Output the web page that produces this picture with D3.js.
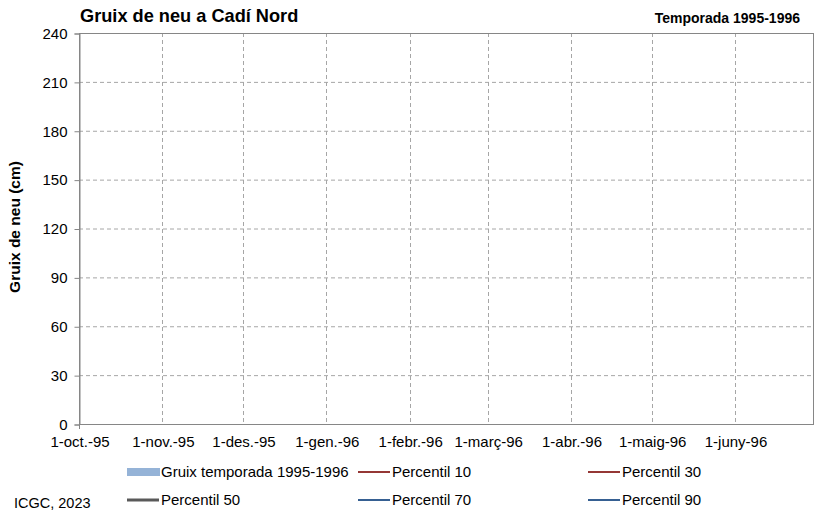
<!DOCTYPE html>
<html><head><meta charset="utf-8">
<script src="https://cdn.jsdelivr.net/npm/d3@7"></script>
<style>body{margin:0;background:#fff;} svg{display:block;font-family:Arial,"Liberation Sans",sans-serif;}</style>
</head><body>
<svg id="c" width="816" height="524"></svg>
<script>
// ---- data ----
const title = "Gruix de neu a Cadí Nord";
const subtitle = "Temporada 1995-1996";
const yLabel = "Gruix de neu (cm)";
const source = "ICGC, 2023";
const domainStart = "1995-10-01";
const domainEnd = "1996-06-30";
const xTickDates = ["1995-10-01","1995-11-01","1995-12-01","1996-01-01","1996-02-01","1996-03-01","1996-04-01","1996-05-01","1996-06-01"];
const xTickLabels = ["1-oct.-95","1-nov.-95","1-des.-95","1-gen.-96","1-febr.-96","1-març-96","1-abr.-96","1-maig-96","1-juny-96"];
const yTicks = [0,30,60,90,120,150,180,210,240];
// series (no values shown in the reference for this season)
const seasonDates = [];
const seasonDepth = [];
const p10 = [], p30 = [], p50 = [], p70 = [], p90 = [];
const legendNames = ["Gruix temporada 1995-1996","Percentil 10","Percentil 30","Percentil 50","Percentil 70","Percentil 90"];

// ---- drawing ----
const svg = d3.select("#c");
const m = {l:79, t:33, r:813, b:424};
const parse = d3.timeParse("%Y-%m-%d");
const x = d3.scaleTime().domain([parse(domainStart), parse(domainEnd)]).range([m.l, m.r]);
const y = d3.scaleLinear().domain([0,240]).range([m.b, m.t]);

// grid
const g = svg.append("g");
g.selectAll(".hg").data(yTicks.filter(v=>v>0)).enter().append("line")
  .attr("x1", m.l).attr("x2", m.r).attr("y1", d=>y(d)+0.5).attr("y2", d=>y(d)+0.5)
  .attr("stroke","#a6a6a6").attr("stroke-dasharray","4,3");
g.selectAll(".vg").data(xTickDates.slice(1)).enter().append("line")
  .attr("x1", d=>Math.round(x(parse(d)))+0.5).attr("x2", d=>Math.round(x(parse(d)))+0.5)
  .attr("y1", m.t).attr("y2", m.b)
  .attr("stroke","#a6a6a6").attr("stroke-dasharray","4,3");

// series
const line = d3.line().x((d,i)=>x(parse(seasonDates[i]))).y(d=>y(d));
const area = d3.area().x((d,i)=>x(parse(seasonDates[i]))).y0(y(0)).y1(d=>y(d));
svg.append("path").datum(seasonDepth).attr("d", area).attr("fill","#95b3d7");
[[p10,"#953735",2],[p30,"#953735",2],[p50,"#595959",3],[p70,"#366092",2],[p90,"#366092",2]].forEach(([s,c,w])=>{
  svg.append("path").datum(s).attr("d", line).attr("fill","none").attr("stroke",c).attr("stroke-width",w);
});

// plot frame
svg.append("rect").attr("x", m.l+0.5).attr("y", m.t+0.5).attr("width", m.r-m.l).attr("height", m.b-m.t)
  .attr("fill","none").attr("stroke","#868686");

// y axis
const ya = svg.append("g").attr("transform",`translate(${m.l+0.5},0.5)`)
  .call(d3.axisLeft(y).tickValues(yTicks).tickSize(5).tickPadding(7).tickFormat(d3.format("d")));
ya.select(".domain").attr("stroke","#868686");
ya.selectAll(".tick line").attr("stroke","#868686");
ya.selectAll("text").attr("font-size","15px").attr("fill","#000").attr("font-family","Arial,'Liberation Sans',sans-serif");

// x axis
const xa = svg.append("g").attr("transform",`translate(0.5,${m.b+0.5})`)
  .call(d3.axisBottom(x).tickValues(xTickDates.map(parse)).tickSize(0).tickPadding(12)
    .tickFormat((d,i)=>xTickLabels[i]));
xa.select(".domain").remove();
xa.selectAll("text").attr("font-size","15px").attr("fill","#000").attr("font-family","Arial,'Liberation Sans',sans-serif");
svg.append("line").attr("x1",m.l+0.5).attr("x2",m.l+0.5).attr("y1",m.b).attr("y2",m.b+5).attr("stroke","#868686");

// titles
svg.append("text").attr("x",80).attr("y",22).attr("font-size","18.2px").attr("font-weight","bold").text(title);
svg.append("text").attr("x",800).attr("y",23).attr("text-anchor","end").attr("font-size","14px").attr("font-weight","bold").text(subtitle);
svg.append("text").attr("transform","translate(20,227) rotate(-90)").attr("text-anchor","middle")
  .attr("font-size","15.5px").attr("font-weight","bold").text(yLabel);
svg.append("text").attr("x",14).attr("y",508).attr("font-size","14.5px").text(source);

// legend
const legendPos = [[127,472],[358,472],[588,472],[127,500],[358,500],[588,500]];
const legendStyle = [["rect","#95b3d7",0],["line","#953735",2],["line","#953735",2],["line","#595959",3],["line","#366092",2],["line","#366092",2]];
legendNames.forEach((n,i)=>{
  const [lx,ly] = legendPos[i], [t,c,w] = legendStyle[i];
  if(t==="rect") svg.append("rect").attr("x",lx).attr("y",ly-4).attr("width",33).attr("height",8).attr("fill",c);
  else svg.append("line").attr("x1",lx).attr("x2",lx+32).attr("y1",ly).attr("y2",ly).attr("stroke",c).attr("stroke-width",w);
  svg.append("text").attr("x",lx+34).attr("y",ly+5).attr("font-size","15px").text(n);
});
</script>
</body></html>
